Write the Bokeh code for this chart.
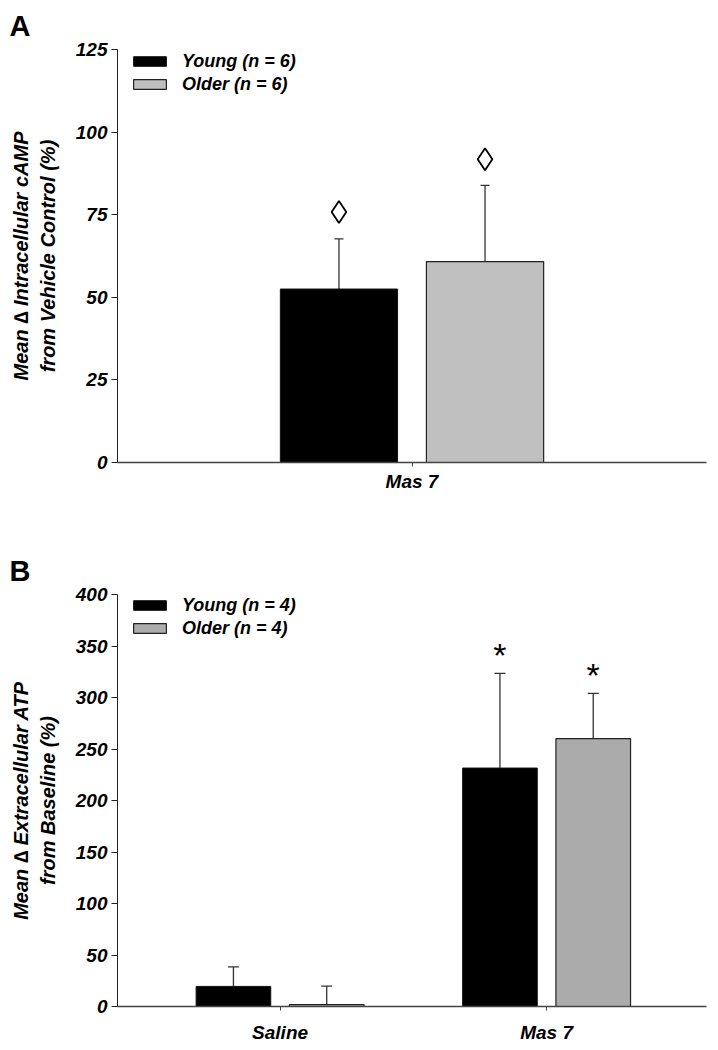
from bokeh.plotting import figure
from bokeh.models import (ColumnDataSource, Whisker, TeeHead, FixedTicker, Range1d,
                          Legend, LegendItem)
from bokeh.layouts import column
from bokeh.embed import file_html
from bokeh.resources import INLINE
from bokeh.core.properties import value

# ---------------- data ----------------
# Panel A
cats_a = ["Mas 7"]
young_a = [52.5]
young_a_err = [15.2]
older_a = [60.8]
older_a_err = [23.1]
sig_a_young = [75.8]
sig_a_older = [91.8]
legend_a = ["Young (n = 6)", "Older (n = 6)"]
yticks_a = [0, 25, 50, 75, 100, 125]

# Panel B
cats_b = ["Saline", "Mas 7"]
young_b = [19.5, 231.5]
young_b_err = [19.0, 92.0]
older_b = [1.8, 260.0]
older_b_err = [18.0, 44.0]
sig_b_young = [None, 343.0]
sig_b_older = [None, 324.0]
legend_b = ["Young (n = 4)", "Older (n = 4)"]
yticks_b = [0, 50, 100, 150, 200, 250, 300, 350, 400]

FONT = "Liberation Sans"


def make_panel(letter, cats, young, young_err, older, older_err, sig_y, sig_o, sig_kind,
               legend_labels, yticks, ylabel, older_color, x_range, offset, bar_w,
               height, border_top, border_bottom, legend_loc, cap, xstandoff, title_standoff):
    if len(cats) > 1:
        xs = [i + 1 for i in range(len(cats))]
    else:
        xs = [0]
    p = figure(width=716, height=height, output_backend="svg", toolbar_location=None,
               x_range=Range1d(*x_range), y_range=Range1d(yticks[0], yticks[-1]),
               min_border_left=117, min_border_right=10,
               min_border_top=border_top, min_border_bottom=border_bottom)
    p.outline_line_color = None
    p.xgrid.visible = False
    p.ygrid.visible = False
    p.background_fill_color = "white"
    p.border_fill_color = "white"

    p.title.text = letter
    p.title.align = "left"
    p.title.offset = -108
    p.title.standoff = title_standoff
    p.title.vertical_align = "top"
    p.title.text_font = FONT
    p.title.text_font_style = "bold"
    p.title.text_font_size = "29px"
    p.title.text_color = "black"

    xy = [x - offset for x in xs]
    xo = [x + offset for x in xs]
    src_y = ColumnDataSource(dict(x=xy, top=young, upper=[a + b for a, b in zip(young, young_err)]))
    src_o = ColumnDataSource(dict(x=xo, top=older, upper=[a + b for a, b in zip(older, older_err)]))

    ry = p.vbar(x="x", top="top", bottom=0, width=bar_w, source=src_y,
                fill_color="black", line_color="#111111", line_width=1)
    ro = p.vbar(x="x", top="top", bottom=0, width=bar_w, source=src_o,
                fill_color=older_color, line_color="#222222", line_width=1.2)

    for src in (src_y, src_o):
        w = Whisker(base="x", lower="top", upper="upper", source=src, dimension="height",
                    line_color="#333333", line_width=1.3,
                    upper_head=TeeHead(size=cap, line_color="#333333", line_width=1.3),
                    lower_head=None)
        p.add_layout(w)

    # significance marks
    sx, sy = [], []
    for x, s in zip(xy, sig_y):
        if s is not None:
            sx.append(x); sy.append(s)
    for x, s in zip(xo, sig_o):
        if s is not None:
            sx.append(x); sy.append(s)
    if sig_kind == "diamond":
        p.scatter(sx, sy, marker="diamond", size=22, fill_color=None,
                  line_color="black", line_width=1.8)
    else:
        p.text(sx, sy, text=["*"] * len(sx), text_font=value(FONT), text_font_size="34px",
               text_align="center", text_baseline="alphabetic", y_offset=2,
               text_color="black")

    # axes
    p.yaxis.ticker = FixedTicker(ticks=yticks)
    p.yaxis.minor_tick_line_color = None
    p.yaxis.major_tick_out = 6
    p.yaxis.major_tick_in = 0
    p.yaxis.axis_line_color = "#222222"
    p.yaxis.major_tick_line_color = "#222222"
    p.yaxis.major_label_text_font = FONT
    p.yaxis.major_label_text_font_style = "bold italic"
    p.yaxis.major_label_text_font_size = "19px"
    p.yaxis.major_label_text_color = "black"
    p.yaxis.major_label_standoff = 4
    p.yaxis.axis_label = ylabel
    p.yaxis.axis_label_text_font = FONT
    p.yaxis.axis_label_text_font_style = "bold italic"
    p.yaxis.axis_label_text_font_size = "20px"
    p.yaxis.axis_label_text_color = "black"
    p.yaxis.axis_label_standoff = 14

    p.xaxis.ticker = FixedTicker(ticks=xs)
    p.xaxis.major_label_overrides = {x: c for x, c in zip(xs, cats)}
    p.xaxis.minor_tick_line_color = None
    p.xaxis.major_tick_out = 4
    p.xaxis.major_tick_in = 0
    p.xaxis.axis_line_color = "#444444"
    p.xaxis.axis_line_width = 1.5
    p.xaxis.major_tick_line_color = "#444444"
    p.xaxis.major_label_text_font = FONT
    p.xaxis.major_label_text_font_style = "bold italic"
    p.xaxis.major_label_text_font_size = "19px"
    p.xaxis.major_label_text_color = "black"
    p.xaxis.major_label_standoff = xstandoff

    leg = Legend(items=[LegendItem(label=legend_labels[0], renderers=[ry]),
                        LegendItem(label=legend_labels[1], renderers=[ro])],
                 location=legend_loc, margin=0, padding=0, spacing=1,
                 glyph_width=41, glyph_height=12, label_height=22, label_standoff=12,
                 label_text_font=FONT, label_text_font_style="bold italic",
                 label_text_font_size="18px", label_text_color="black",
                 border_line_color=None, background_fill_alpha=0)
    p.add_layout(leg)
    return p


pa = make_panel("A", cats_a, young_a, young_a_err, older_a, older_a_err, sig_a_young, sig_a_older,
                "diamond", legend_a, yticks_a,
                "Mean \u2206 Intracellular cAMP\nfrom Vehicle Control (%)",
                "#c0c0c0", (-0.5, 0.5), 0.124, 0.199, 540, 49, 78, (12, 367), 9, 4, 12)
pb = make_panel("B", cats_b, young_b, young_b_err, older_b, older_b_err, sig_b_young, sig_b_older,
                "star", legend_b, yticks_b,
                "Mean \u2206 Extracellular ATP\nfrom Baseline (%)",
                "#ababab", (0.39, 2.6), 0.175, 0.28, 508, 54, 42, (12, 367), 11, 11, 12)

layout = column(pa, pb, spacing=0)
open("out.html", "w").write(file_html(layout, INLINE))
